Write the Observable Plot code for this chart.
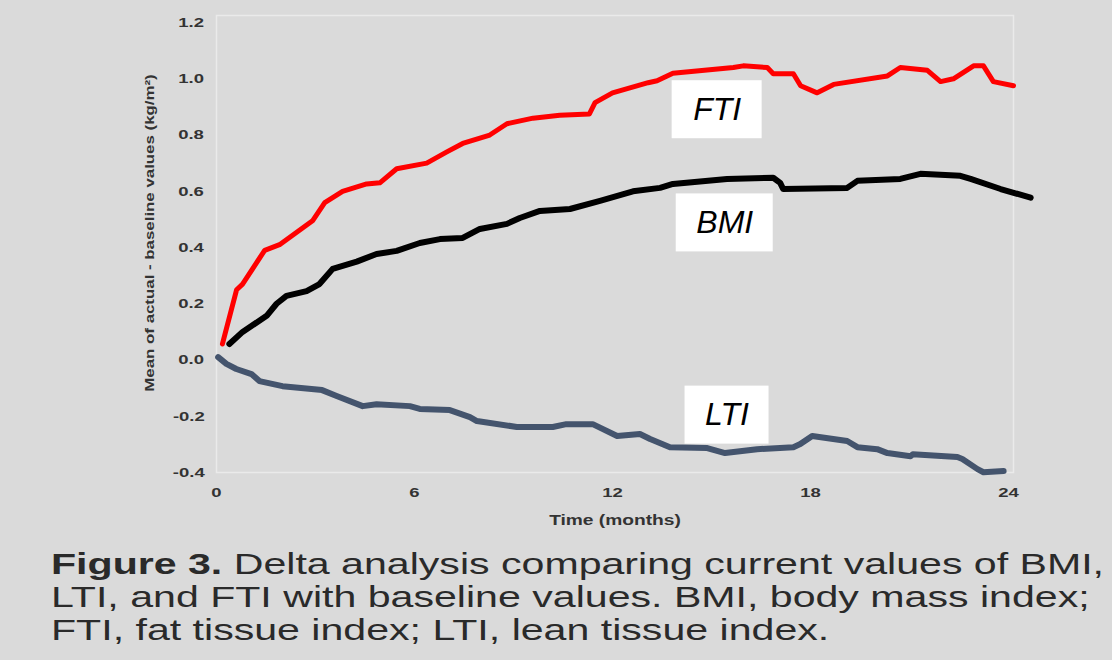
<!DOCTYPE html>
<html><head><meta charset="utf-8">
<script src="https://cdn.jsdelivr.net/npm/d3@7"></script>
<script src="https://cdn.jsdelivr.net/npm/@observablehq/plot@0.6"></script>
<style>
html,body{margin:0;padding:0;background:#dadada;overflow:hidden;}
#chart{width:1112px;height:530px;}
#caption{margin:17px 0 0 51px;font-family:"Liberation Sans",Arial,Helvetica,sans-serif;font-size:30px;line-height:33px;color:#2a2a2a;white-space:nowrap;transform:scaleX(1.37);transform-origin:left top;}
</style></head><body>
<div id="chart"></div>
<div id="caption"><b>Figure 3.</b> Delta analysis comparing current values of BMI,<br>LTI, and FTI with baseline values. BMI, body mass index;<br>FTI, fat tissue index; LTI, lean tissue index.</div>
<script>
// FTI (fat tissue index)
const ftiMonths = [0.18,0.61,0.79,1.46,1.91,2.91,3.28,3.82,4.55,4.95,5.46,6.37,6.98,7.46,8.28,8.8,9.59,10.4,11.3,11.47,12.0,13.08,13.35,13.83,15.66,15.96,16.69,16.87,17.48,17.7,18.2,18.7,20.33,20.72,21.54,21.94,22.33,22.94,23.24,23.54,24.15];
const ftiValues = [0.057,0.25,0.27,0.39,0.41,0.495,0.56,0.60,0.626,0.63,0.68,0.70,0.74,0.77,0.80,0.84,0.86,0.87,0.875,0.915,0.95,0.986,0.993,1.02,1.04,1.046,1.04,1.018,1.018,0.975,0.95,0.98,1.01,1.04,1.03,0.99,1.0,1.046,1.046,0.99,0.975];
// BMI (body mass index)
const bmiMonths = [0.39,0.79,1.52,1.82,2.12,2.73,3.12,3.52,4.25,4.85,5.46,6.16,6.77,7.46,7.98,8.8,9.19,9.8,10.71,11.62,12.62,13.44,13.83,15.47,16.87,17.08,17.17,19.11,19.42,20.72,21.33,22.54,22.85,23.76,24.67];
const bmiValues = [0.057,0.10,0.157,0.2,0.228,0.245,0.27,0.324,0.35,0.377,0.388,0.416,0.43,0.434,0.466,0.484,0.505,0.53,0.537,0.566,0.60,0.612,0.626,0.644,0.648,0.63,0.608,0.612,0.637,0.644,0.662,0.655,0.644,0.608,0.577];
// LTI (lean tissue index)
const ltiMonths = [0.05,0.3,0.6,1.06,1.3,2.0,3.2,3.64,4.43,4.85,5.86,6.16,7.07,7.68,7.89,9.1,10.19,10.6,11.4,12.14,12.83,13.14,13.74,14.87,15.41,16.38,17.48,17.69,18.05,19.11,19.42,20.02,20.33,21.03,21.1,22.45,22.6,23.06,23.24,23.85];
const ltiValues = [0.01,-0.014,-0.032,-0.05,-0.075,-0.093,-0.107,-0.128,-0.164,-0.157,-0.164,-0.174,-0.178,-0.203,-0.217,-0.238,-0.238,-0.228,-0.228,-0.27,-0.263,-0.281,-0.31,-0.313,-0.331,-0.317,-0.31,-0.299,-0.27,-0.288,-0.31,-0.317,-0.331,-0.342,-0.335,-0.345,-0.352,-0.388,-0.399,-0.395];

const xTicks = [0, 6, 12, 18, 24];
const yTicks = [-0.4, -0.2, 0.0, 0.2, 0.4, 0.6, 0.8, 1.0, 1.2];

// label anchors (data units)
const labelNames = ["FTI", "BMI", "LTI"];
const labelMonths = [15.17, 15.4, 15.47];
const labelValues = [0.89, 0.4875, -0.196];

const series = (name, xs, ys) => xs.map((x, i) => ({series: name, month: x, value: ys[i]}));
const fti = series("FTI", ftiMonths, ftiValues);
const bmi = series("BMI", bmiMonths, bmiValues);
const lti = series("LTI", ltiMonths, ltiValues);
const labels = labelNames.map((n, i) => ({name: n, month: labelMonths[i], value: labelValues[i]}));
const boxW = {FTI: 90, BMI: 97, LTI: 84};
const boxH = 58;

const axisFont = '"Liberation Sans",Arial,sans-serif';

const chart = Plot.plot({
  width: 1112,
  height: 530,
  marginTop: 15,
  marginBottom: 58,
  marginLeft: 216,
  marginRight: 99,
  style: {background: "transparent", fontFamily: axisFont, fontSize: "13.5px", color: "#333", fontWeight: "bold"},
  x: {domain: [0, 24.15], ticks: xTicks, tickSize: 0, tickPadding: 15, label: null, tickFormat: d => String(d)},
  y: {domain: [-0.4, 1.225], ticks: yTicks, tickSize: 0, tickPadding: 16, label: null, tickFormat: d => d.toFixed(1)},
  marks: [
    Plot.frame({stroke: "#eaeaea", strokeWidth: 1.5}),
    Plot.line(lti, {x: "month", y: "value", stroke: "#44546d", strokeWidth: 6, strokeLinejoin: "round"}),
    Plot.line(bmi, {x: "month", y: "value", stroke: "#000000", strokeWidth: 6, strokeLinejoin: "round"}),
    Plot.line(fti, {x: "month", y: "value", stroke: "#ff0000", strokeWidth: 5, strokeLinejoin: "round"}),
    ...labels.map(l => Plot.rect([l], {
      x1: "month", x2: "month", y1: "value", y2: "value",
      insetLeft: -boxW[l.name] / 2, insetRight: -boxW[l.name] / 2,
      insetTop: -boxH / 2, insetBottom: -boxH / 2,
      fill: "white"
    })),
    Plot.text(labels, {x: "month", y: "value", text: "name", fontSize: 32, fontStyle: "italic", fontWeight: "normal",
      fontFamily: '"Liberation Sans",Arial,sans-serif', fill: "black"}),
    Plot.text(["Mean of actual - baseline values (kg/m²)"], {frameAnchor: "left", textAnchor: "middle", dx: -66, dy: -11, rotate: -90,
      fontSize: 12.3, fill: "#333"}),
    Plot.text(["Time (months)"], {frameAnchor: "bottom", dy: 52, fontSize: 14, fill: "#333"})
  ]
});
document.getElementById("chart").appendChild(chart);

// the reference's axis texts are stretched horizontally: widen them along their baseline
const keep = new Set(labelNames);
chart.querySelectorAll("text").forEach(t => {
  if (keep.has(t.textContent.trim())) return;
  const b = t.getBBox();
  const cx = b.x + b.width / 2, cy = b.y + b.height / 2;
  const tr = t.getAttribute("transform") || "";
  t.setAttribute("transform", `${tr} translate(${cx},${cy}) scale(1.37,1) translate(${-cx},${-cy})`);
});
</script>
</body></html>
